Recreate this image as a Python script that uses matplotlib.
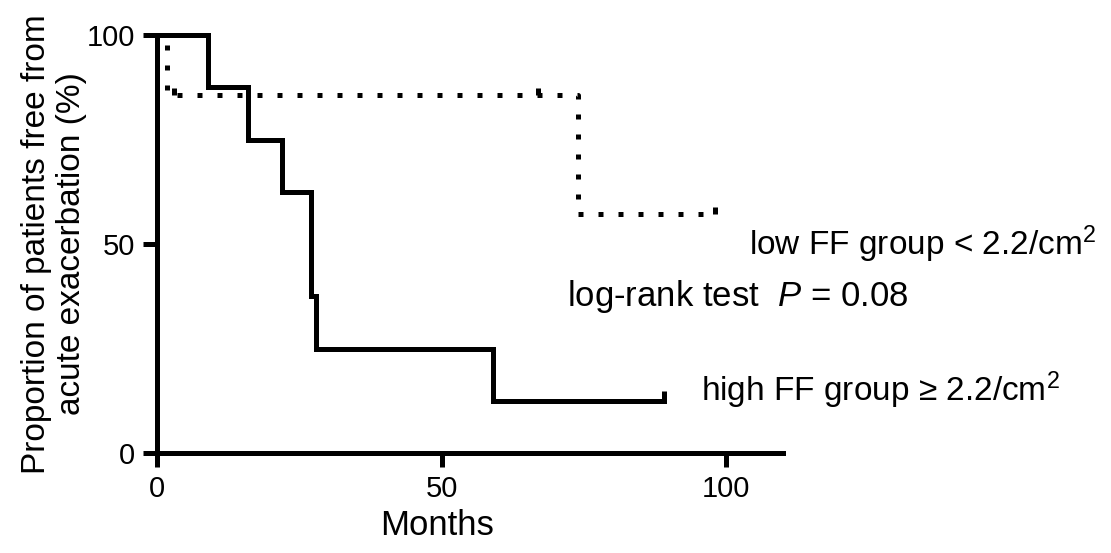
import matplotlib
matplotlib.use("Agg")
import matplotlib.pyplot as plt

plt.rcParams['font.family'] = ['Liberation Sans', 'DejaVu Sans']
plt.rcParams['mathtext.fontset'] = 'custom'
plt.rcParams['mathtext.rm'] = 'Liberation Sans'
plt.rcParams['mathtext.it'] = 'Liberation Sans:italic'

# Kaplan-Meier curves (months, % free from acute exacerbation)
high_t = [0, 9, 16, 22, 27, 28, 59, 89]
high_s = [100, 87.5, 75, 62.5, 37.5, 25, 12.5, 12.5]
high_cens_t = [89]
high_cens_s = [12.5]

low_t = [0, 1.7, 74, 98]
low_s = [100, 85.7, 57.1, 57.1]
low_cens_t = [3, 67, 98]
low_cens_s = [85.7, 85.7, 57.1]

xticks = [0, 50, 100]
yticks = [0, 50, 100]

lw = 3.6
fig = plt.figure(figsize=(11.11, 5.53), dpi=100)
ax = fig.add_axes([0.1413, 0.1808, 0.5635, 0.7559])

ax.step(high_t, high_s, where='post', color='black', lw=lw, clip_on=False,
        solid_joinstyle='miter')
ax.plot(high_cens_t, high_cens_s, ls='none', marker=2, ms=7, mew=lw,
        color='black', clip_on=False)
ax.step(low_t, low_s, where='post', color='black', lw=lw, ls=(0, (1, 3)),
        dash_capstyle='butt', clip_on=False)
ax.plot(low_cens_t, low_cens_s, ls='none', marker=2, ms=5, mew=lw,
        color='black', clip_on=False)

ax.set_xlim(0, 110)
ax.set_ylim(0, 100)
ax.set_xticks(xticks)
ax.set_yticks(yticks)
for s in ['top', 'right']:
    ax.spines[s].set_visible(False)
for s in ['left', 'bottom']:
    ax.spines[s].set_linewidth(lw)
ax.tick_params(width=lw, length=10, labelsize=21, pad=6)

ax.set_xlabel("Months", fontsize=25)
ax.xaxis.set_label_coords(0.447, -0.135)
ax.set_ylabel("Proportion of patients free from\nacute exacerbation (%)",
              fontsize=24, linespacing=1.15)
ax.yaxis.set_label_coords(-0.112, 0.5)

ax.text(104, 50, "low FF group < 2.2/cm$^{2}$", fontsize=24, va='center',
        ha='left', clip_on=False)
ax.text(72, 37.5, r"log-rank test  $\it{P}$ = 0.08", fontsize=25,
        va='center', ha='left', clip_on=False)
ax.text(95.6, 15, "high FF group ≥ 2.2/cm$^{2}$", fontsize=24, va='center',
        ha='left', clip_on=False)

fig.savefig("out.png", dpi=100)
